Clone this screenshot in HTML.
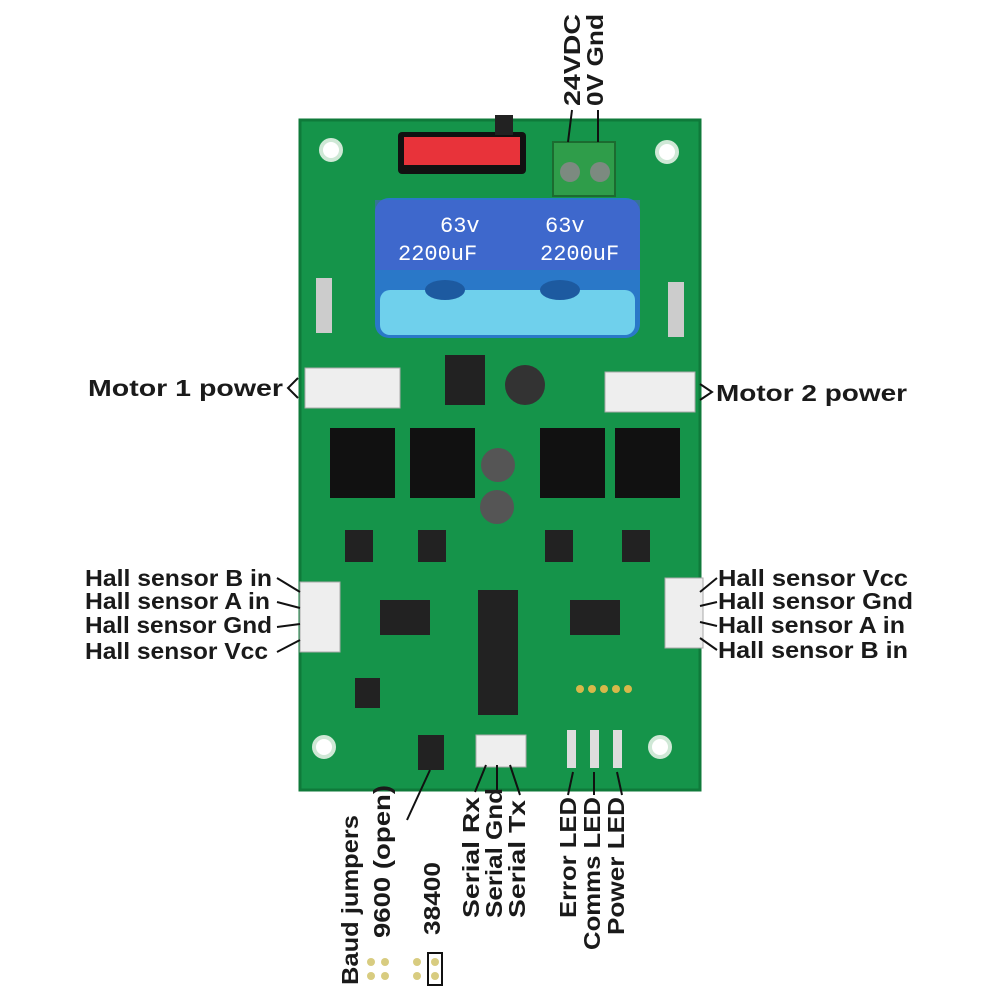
<!DOCTYPE html>
<html><head><meta charset="utf-8"><style>
html,body{margin:0;padding:0;background:#fff;}
svg{display:block;}
text{font-family:"Liberation Sans",sans-serif;font-size:23px;font-weight:bold;fill:#1a1a1a;}
</style></head><body>
<svg width="1000" height="1000" viewBox="0 0 1000 1000">
<rect x="300" y="120" width="400" height="670" fill="#15944a"/>
<rect x="300" y="120" width="400" height="670" fill="none" stroke="#0f7a3a" stroke-width="3"/>
<g fill="#fff" stroke="#cfe8d6" stroke-width="4">
<circle cx="331" cy="150" r="10"/><circle cx="667" cy="152" r="10"/>
<circle cx="324" cy="747" r="10"/><circle cx="660" cy="747" r="10"/>
</g>
<rect x="398" y="132" width="128" height="42" rx="4" fill="#111"/>
<rect x="404" y="137" width="116" height="28" fill="#e8333a"/>
<rect x="495" y="115" width="18" height="20" fill="#222"/>
<rect x="553" y="142" width="62" height="54" fill="#2f9d4a" stroke="#1c6b30" stroke-width="2"/>
<circle cx="570" cy="172" r="10" fill="#7c8a80"/><circle cx="600" cy="172" r="10" fill="#7c8a80"/>
<line x1="572" y1="110" x2="568" y2="142" stroke="#111" stroke-width="2"/>
<line x1="598" y1="110" x2="598" y2="142" stroke="#111" stroke-width="2"/>
<rect x="375" y="198" width="265" height="140" rx="14" fill="#2a78c8"/>
<rect x="380" y="290" width="255" height="45" rx="10" fill="#6fd0ec"/>
<rect x="375" y="200" width="265" height="70" fill="#4e5bd0" opacity="0.55"/>
<text x="440" y="232" style="font-family:'Liberation Mono',monospace;font-weight:normal;font-size:22px;fill:#fff">63v</text>
<text x="545" y="232" style="font-family:'Liberation Mono',monospace;font-weight:normal;font-size:22px;fill:#fff">63v</text>
<text x="398" y="260" style="font-family:'Liberation Mono',monospace;font-weight:normal;font-size:22px;fill:#fff">2200uF</text>
<text x="540" y="260" style="font-family:'Liberation Mono',monospace;font-weight:normal;font-size:22px;fill:#fff">2200uF</text>
<ellipse cx="445" cy="290" rx="20" ry="10" fill="#1d5aa0"/><ellipse cx="560" cy="290" rx="20" ry="10" fill="#1d5aa0"/>
<rect x="316" y="278" width="16" height="55" fill="#ccc"/><rect x="668" y="282" width="16" height="55" fill="#ccc"/>
<rect x="445" y="355" width="40" height="50" fill="#222"/>
<circle cx="525" cy="385" r="20" fill="#333"/>
<rect x="305" y="368" width="95" height="40" fill="#eee" stroke="#aaa"/>
<rect x="605" y="372" width="90" height="40" fill="#eee" stroke="#aaa"/>
<g fill="#111">
<rect x="330" y="428" width="65" height="70"/><rect x="410" y="428" width="65" height="70"/>
<rect x="540" y="428" width="65" height="70"/><rect x="615" y="428" width="65" height="70"/>
</g>
<circle cx="498" cy="465" r="17" fill="#555"/><circle cx="497" cy="507" r="17" fill="#555"/>
<g fill="#222">
<rect x="345" y="530" width="28" height="32"/><rect x="418" y="530" width="28" height="32"/>
<rect x="545" y="530" width="28" height="32"/><rect x="622" y="530" width="28" height="32"/>
<rect x="380" y="600" width="50" height="35"/><rect x="570" y="600" width="50" height="35"/>
<rect x="478" y="590" width="40" height="125"/>
<rect x="355" y="678" width="25" height="30"/>
<rect x="418" y="735" width="26" height="35"/>
</g>
<rect x="300" y="582" width="40" height="70" fill="#eee" stroke="#aaa"/>
<rect x="665" y="578" width="38" height="70" fill="#eee" stroke="#aaa"/>
<rect x="476" y="735" width="50" height="32" fill="#eee" stroke="#aaa"/>
<g fill="#ddd"><rect x="567" y="730" width="9" height="38"/><rect x="590" y="730" width="9" height="38"/><rect x="613" y="730" width="9" height="38"/></g>
<g fill="#d8b84a"><circle cx="580" cy="689" r="4"/><circle cx="592" cy="689" r="4"/><circle cx="604" cy="689" r="4"/><circle cx="616" cy="689" r="4"/><circle cx="628" cy="689" r="4"/></g>

<text x="88" y="396" textLength="195" lengthAdjust="spacingAndGlyphs">Motor 1 power</text>
<text x="716" y="401" textLength="191" lengthAdjust="spacingAndGlyphs">Motor 2 power</text>
<path d="M298 378 L288 388 L298 398" fill="none" stroke="#111" stroke-width="2"/>
<path d="M700 384 L712 392 L700 400" fill="none" stroke="#111" stroke-width="2"/>
<text x="85" y="586" textLength="187" lengthAdjust="spacingAndGlyphs">Hall sensor B in</text>
<text x="85" y="609" textLength="185" lengthAdjust="spacingAndGlyphs">Hall sensor A in</text>
<text x="85" y="633" textLength="187" lengthAdjust="spacingAndGlyphs">Hall sensor Gnd</text>
<text x="85" y="659" textLength="183" lengthAdjust="spacingAndGlyphs">Hall sensor Vcc</text>
<text x="718" y="586" textLength="190" lengthAdjust="spacingAndGlyphs">Hall sensor Vcc</text>
<text x="718" y="609" textLength="195" lengthAdjust="spacingAndGlyphs">Hall sensor Gnd</text>
<text x="718" y="633" textLength="187" lengthAdjust="spacingAndGlyphs">Hall sensor A in</text>
<text x="718" y="658" textLength="190" lengthAdjust="spacingAndGlyphs">Hall sensor B in</text>
<g stroke="#111" stroke-width="2">
<line x1="277" y1="578" x2="300" y2="592"/><line x1="277" y1="602" x2="300" y2="608"/>
<line x1="277" y1="627" x2="300" y2="624"/><line x1="277" y1="652" x2="300" y2="640"/>
<line x1="717" y1="578" x2="700" y2="592"/><line x1="717" y1="602" x2="700" y2="606"/>
<line x1="717" y1="626" x2="700" y2="622"/><line x1="717" y1="650" x2="700" y2="638"/>
<line x1="430" y1="770" x2="407" y2="820"/>
<line x1="486" y1="765" x2="475" y2="792"/><line x1="497" y1="765" x2="497" y2="792"/><line x1="510" y1="765" x2="520" y2="795"/>
<line x1="573" y1="772" x2="568" y2="795"/><line x1="594" y1="772" x2="594" y2="795"/><line x1="617" y1="772" x2="622" y2="795"/>
</g>
<text transform="translate(580,106) rotate(-90)" textLength="92" lengthAdjust="spacingAndGlyphs">24VDC</text>
<text transform="translate(603,106) rotate(-90)" textLength="92" lengthAdjust="spacingAndGlyphs">0V Gnd</text>
<text transform="translate(358,985) rotate(-90)" textLength="170" lengthAdjust="spacingAndGlyphs">Baud jumpers</text>
<text transform="translate(390,938) rotate(-90)" textLength="153" lengthAdjust="spacingAndGlyphs">9600 (open)</text>
<text transform="translate(440,935) rotate(-90)" textLength="73" lengthAdjust="spacingAndGlyphs">38400</text>
<text transform="translate(479,918) rotate(-90)" textLength="121" lengthAdjust="spacingAndGlyphs">Serial Rx</text>
<text transform="translate(502,918) rotate(-90)" textLength="130" lengthAdjust="spacingAndGlyphs">Serial Gnd</text>
<text transform="translate(525,918) rotate(-90)" textLength="118" lengthAdjust="spacingAndGlyphs">Serial Tx</text>
<text transform="translate(576,918) rotate(-90)" textLength="121" lengthAdjust="spacingAndGlyphs">Error LED</text>
<text transform="translate(600,950) rotate(-90)" textLength="153" lengthAdjust="spacingAndGlyphs">Comms LED</text>
<text transform="translate(624,935) rotate(-90)" textLength="138" lengthAdjust="spacingAndGlyphs">Power LED</text>
<g fill="#d8cc80">
<circle cx="371" cy="962" r="4"/><circle cx="385" cy="962" r="4"/><circle cx="371" cy="976" r="4"/><circle cx="385" cy="976" r="4"/>
<circle cx="417" cy="962" r="4"/><circle cx="417" cy="976" r="4"/><circle cx="435" cy="962" r="4"/><circle cx="435" cy="976" r="4"/>
</g>
<rect x="428" y="953" width="14" height="32" fill="none" stroke="#111" stroke-width="2"/>
</svg>
</body></html>
